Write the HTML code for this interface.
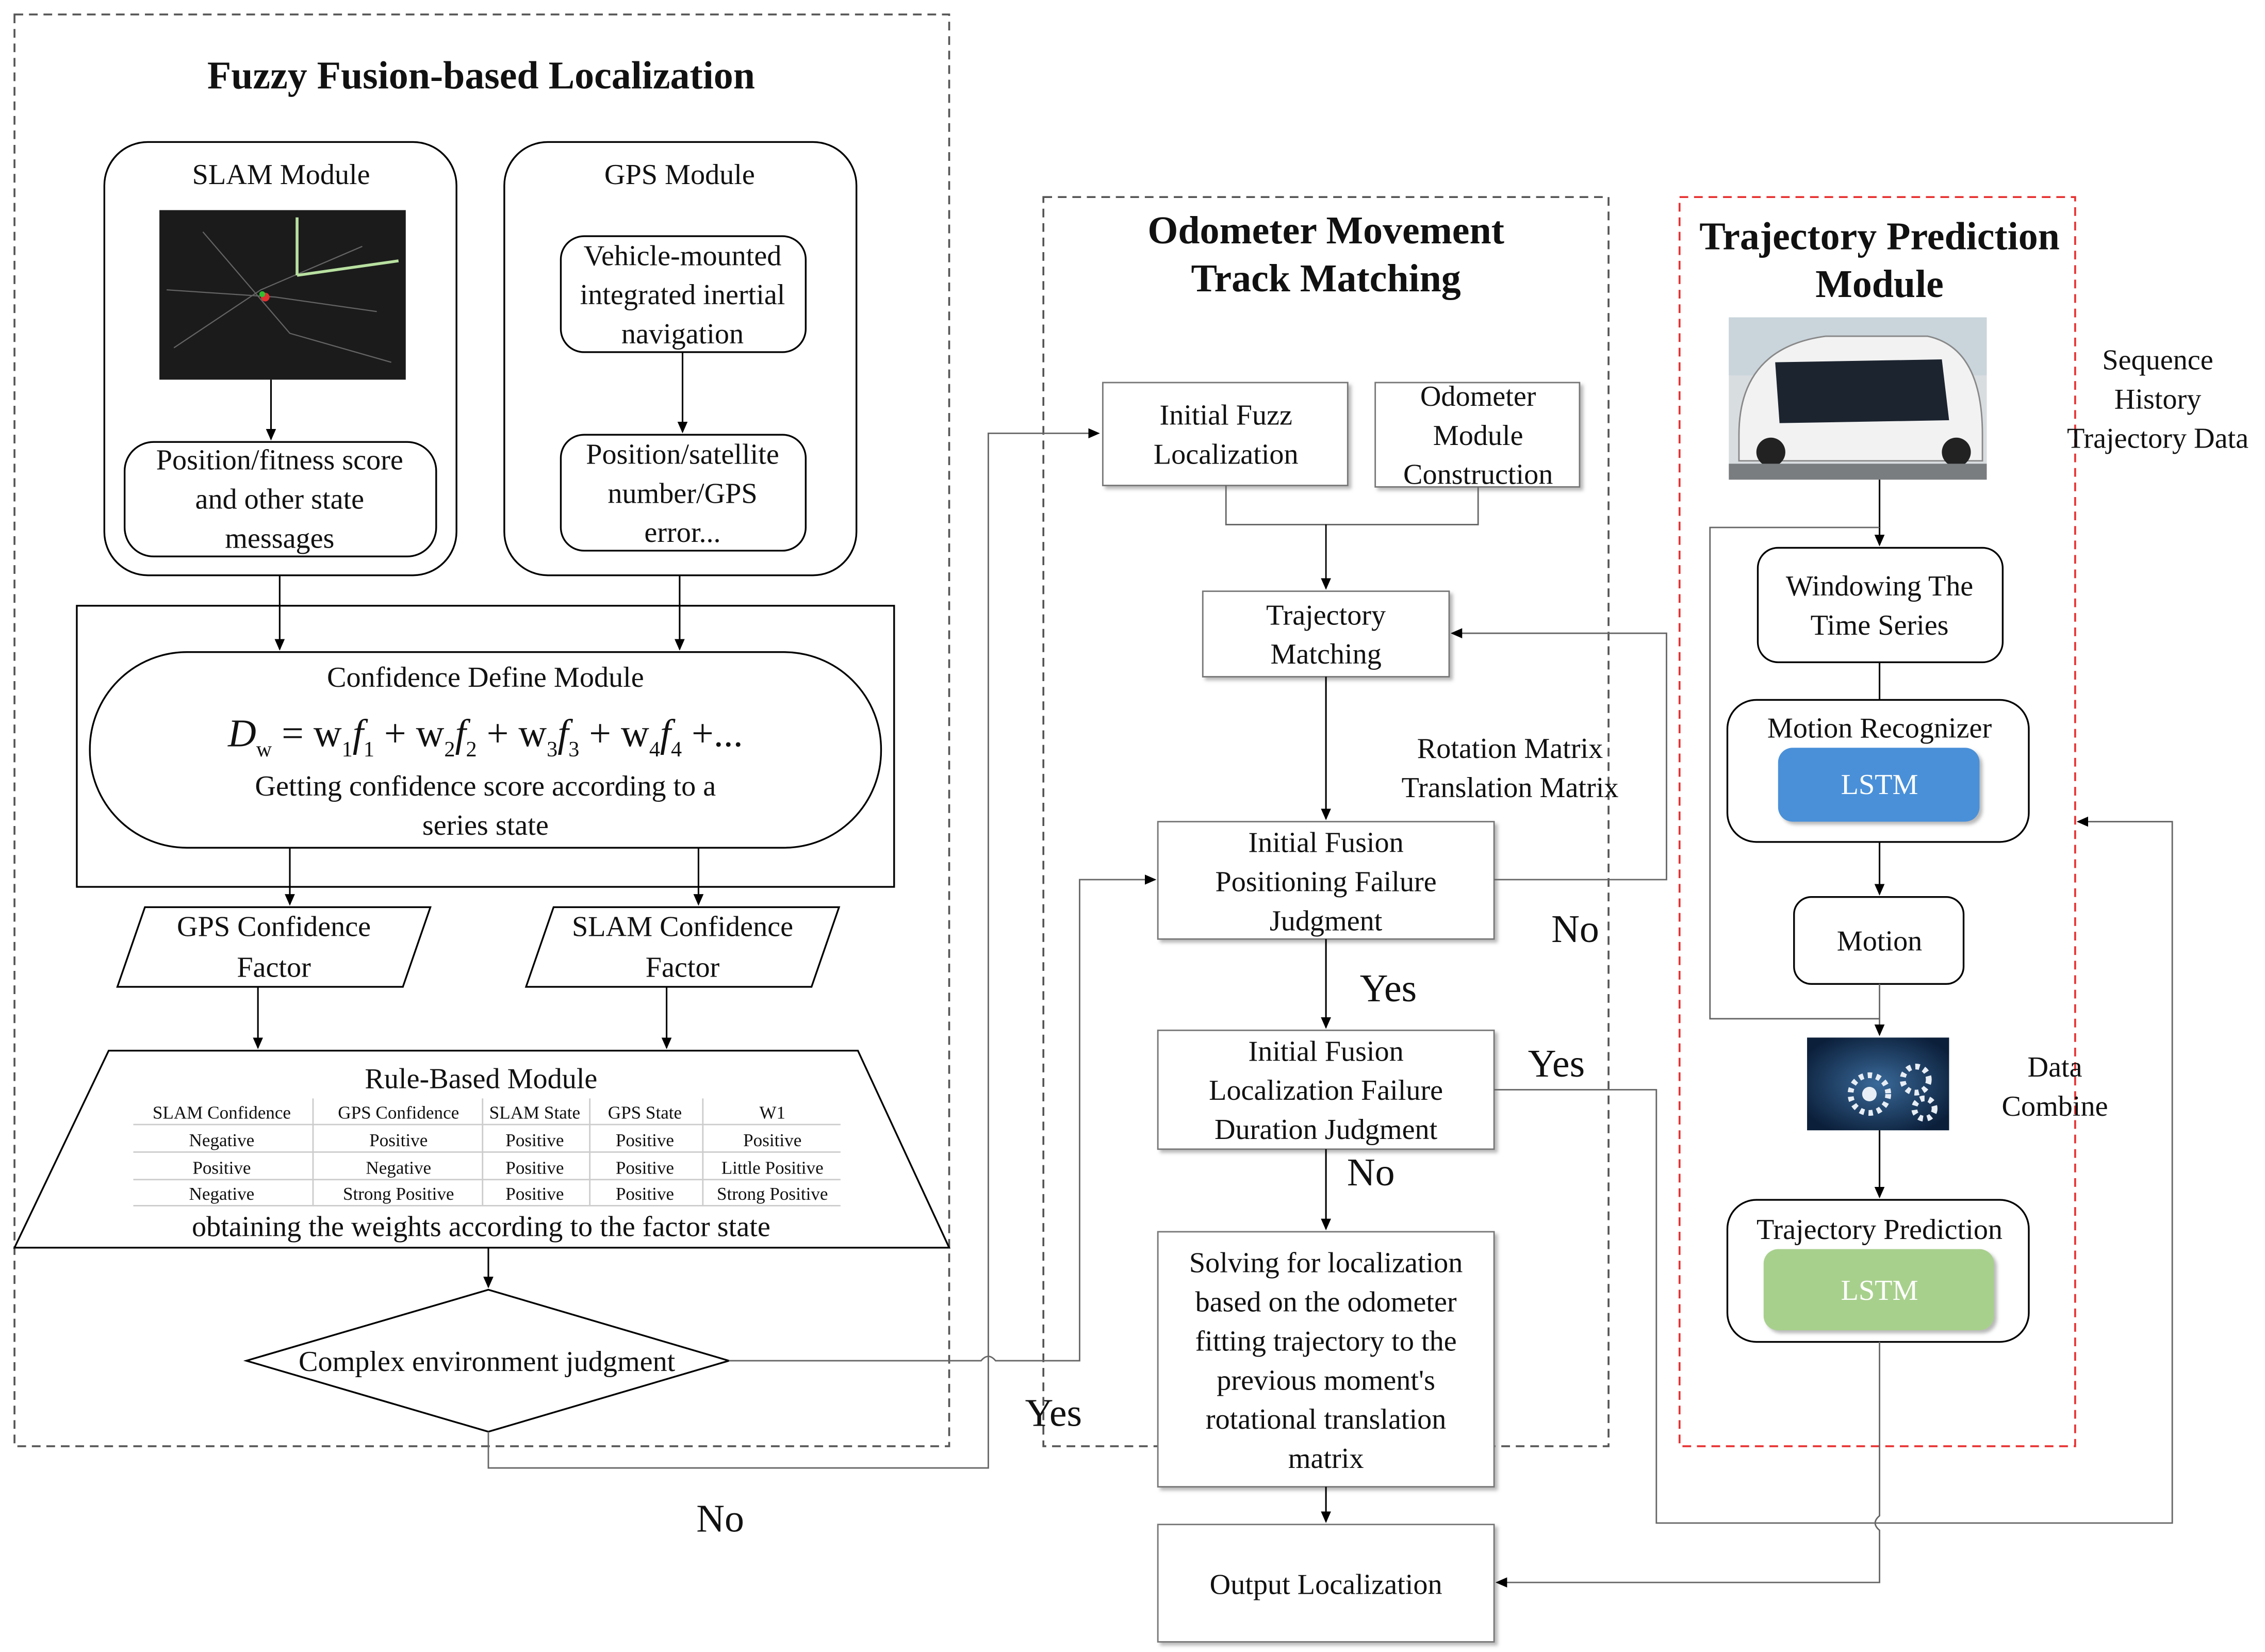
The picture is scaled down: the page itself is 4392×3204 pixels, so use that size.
<!DOCTYPE html>
<html><head><meta charset="utf-8"><style>
html,body{margin:0;padding:0;background:#fff;}
svg{display:block;}
text{font-family:"Liberation Serif",serif;fill:#111;}
</style></head><body>
<svg width="4392" height="3204" viewBox="0 0 1563 1140" preserveAspectRatio="none" xmlns="http://www.w3.org/2000/svg">
<defs>
<marker id="a" markerWidth="8" markerHeight="8" refX="7" refY="4" orient="auto" markerUnits="userSpaceOnUse"><path d="M0,0.5 L8,4 L0,7.5 z" fill="#000"/></marker>
<filter id="sh" x="-5%" y="-5%" width="115%" height="120%"><feDropShadow dx="2" dy="2" stdDeviation="1.2" flood-color="#888" flood-opacity="0.6"/></filter>
<radialGradient id="gear" cx="0.5" cy="0.5" r="0.6"><stop offset="0" stop-color="#3a6a9a"/><stop offset="1" stop-color="#0b1f3a"/></radialGradient>
</defs>
<g fill="none" stroke="#555" stroke-width="1.3" stroke-dasharray="6,4">
<rect x="10" y="10" width="645" height="988"/>
<rect x="720" y="136" width="390" height="862"/>
</g>
<rect x="1159" y="136" width="273" height="862" fill="none" stroke="#e83030" stroke-width="1.3" stroke-dasharray="6,4"/>

<g font-weight="bold" font-size="27" text-anchor="middle">
<text x="332" y="61">Fuzzy Fusion-based Localization</text>
<text x="915" y="168">Odometer Movement</text>
<text x="915" y="201">Track Matching</text>
<text x="1297" y="172">Trajectory Prediction</text>
<text x="1297" y="205">Module</text>
</g>

<g fill="none" stroke="#000" stroke-width="1.2">
<rect x="72" y="98" width="243" height="299" rx="30"/>
<rect x="348" y="98" width="243" height="299" rx="30"/>
<rect x="86" y="305" width="215" height="79" rx="20"/>
<rect x="387" y="163" width="169" height="80" rx="16"/>
<rect x="387" y="300" width="169" height="80" rx="16"/>
<rect x="53" y="418" width="564" height="194"/>
<rect x="62" y="450" width="546" height="135" rx="67"/>
<polygon points="100,626 297,626 278,681 81,681"/>
<polygon points="382,626 579,626 560,681 363,681"/>
<polygon points="75,725 592,725 655,861 10,861"/>
<polygon points="170,939 337,890 503,939 337,988"/>
</g>
<rect x="110" y="145" width="170" height="117" fill="#1b1b1b"/>
<g stroke="#777" stroke-width="0.8" opacity="0.8">
<path d="M120,240 L180,200 L250,170 M140,160 L200,230 L270,250 M115,200 L190,205 L260,215" fill="none"/>
</g>
<path d="M205,190 L205,150 M205,190 L275,180" stroke="#b8e0a0" stroke-width="2" fill="none"/>
<circle cx="183" cy="205" r="3" fill="#e03030"/><circle cx="181" cy="203" r="2" fill="#30c030"/>

<g font-size="20" text-anchor="middle">
<text x="194" y="127">SLAM Module</text>
<text x="469" y="127">GPS Module</text>
<text x="193" y="324">Position/fitness score</text>
<text x="193" y="351">and other state</text>
<text x="193" y="378">messages</text>
<text x="471" y="183">Vehicle-mounted</text>
<text x="471" y="210">integrated inertial</text>
<text x="471" y="237">navigation</text>
<text x="471" y="320">Position/satellite</text>
<text x="471" y="347">number/GPS</text>
<text x="471" y="374">error...</text>
<text x="335" y="474">Confidence Define Module</text>
<text x="335" y="549">Getting confidence score according to a</text>
<text x="335" y="576">series state</text>
<text x="189" y="646">GPS Confidence</text>
<text x="189" y="674">Factor</text>
<text x="471" y="646">SLAM Confidence</text>
<text x="471" y="674">Factor</text>
<text x="332" y="751">Rule-Based Module</text>
<text x="332" y="853">obtaining the weights according to the factor state</text>
<text x="336" y="946">Complex environment judgment</text>
</g>
<text x="335" y="515" font-size="27" text-anchor="middle" font-style="italic">D<tspan font-size="15" dy="7" font-style="normal">w</tspan><tspan dy="-7" font-style="normal"> =  w</tspan><tspan font-size="15" dy="7" font-style="normal">1</tspan><tspan dy="-7">f</tspan><tspan font-size="15" dy="7" font-style="normal">1</tspan><tspan dy="-7" font-style="normal"> + w</tspan><tspan font-size="15" dy="7" font-style="normal">2</tspan><tspan dy="-7">f</tspan><tspan font-size="15" dy="7" font-style="normal">2</tspan><tspan dy="-7" font-style="normal"> + w</tspan><tspan font-size="15" dy="7" font-style="normal">3</tspan><tspan dy="-7">f</tspan><tspan font-size="15" dy="7" font-style="normal">3</tspan><tspan dy="-7" font-style="normal"> + w</tspan><tspan font-size="15" dy="7" font-style="normal">4</tspan><tspan dy="-7">f</tspan><tspan font-size="15" dy="7" font-style="normal">4</tspan><tspan dy="-7" font-style="normal"> +...</tspan></text>

<g stroke="#ccc" stroke-width="1">
<line x1="92" y1="776" x2="580" y2="776"/><line x1="92" y1="795" x2="580" y2="795"/><line x1="92" y1="814" x2="580" y2="814"/><line x1="92" y1="832" x2="580" y2="832"/>
<line x1="216" y1="758" x2="216" y2="832"/><line x1="333" y1="758" x2="333" y2="832"/><line x1="407" y1="758" x2="407" y2="832"/><line x1="485" y1="758" x2="485" y2="832"/>
</g>
<g font-size="12.5" text-anchor="middle">
<text x="153" y="772">SLAM Confidence</text><text x="275" y="772">GPS Confidence</text><text x="369" y="772">SLAM State</text><text x="445" y="772">GPS State</text><text x="533" y="772">W1</text>
<text x="153" y="791">Negative</text><text x="275" y="791">Positive</text><text x="369" y="791">Positive</text><text x="445" y="791">Positive</text><text x="533" y="791">Positive</text>
<text x="153" y="810">Positive</text><text x="275" y="810">Negative</text><text x="369" y="810">Positive</text><text x="445" y="810">Positive</text><text x="533" y="810">Little Positive</text>
<text x="153" y="828">Negative</text><text x="275" y="828">Strong Positive</text><text x="369" y="828">Positive</text><text x="445" y="828">Positive</text><text x="533" y="828">Strong Positive</text>
</g>

<g fill="#fff" stroke="#777" stroke-width="1" filter="url(#sh)">
<rect x="761" y="264" width="169" height="71"/>
<rect x="949" y="264" width="141" height="72"/>
<rect x="830" y="408" width="170" height="59"/>
<rect x="799" y="567" width="232" height="81"/>
<rect x="799" y="711" width="232" height="82"/>
<rect x="799" y="850" width="232" height="176"/>
<rect x="799" y="1052" width="232" height="81"/>
</g>
<g font-size="20" text-anchor="middle">
<text x="846" y="293">Initial Fuzz</text><text x="846" y="320">Localization</text>
<text x="1020" y="280">Odometer</text><text x="1020" y="307">Module</text><text x="1020" y="334">Construction</text>
<text x="915" y="431">Trajectory</text><text x="915" y="458">Matching</text>
<text x="1042" y="523">Rotation Matrix</text><text x="1042" y="550">Translation Matrix</text>
<text x="915" y="588">Initial Fusion</text><text x="915" y="615">Positioning Failure</text><text x="915" y="642">Judgment</text>
<text x="915" y="732">Initial Fusion</text><text x="915" y="759">Localization Failure</text><text x="915" y="786">Duration Judgment</text>
<text x="915" y="878">Solving for localization</text><text x="915" y="905">based on the odometer</text><text x="915" y="932">fitting trajectory to the</text><text x="915" y="959">previous moment's</text><text x="915" y="986">rotational translation</text><text x="915" y="1013">matrix</text>
<text x="915" y="1100">Output Localization</text>
<text x="1489" y="255">Sequence</text><text x="1489" y="282">History</text><text x="1489" y="309">Trajectory Data</text>
<text x="1418" y="743">Data</text><text x="1418" y="770">Combine</text>
</g>
<g font-size="27" text-anchor="middle">
<text x="1087" y="650">No</text><text x="958" y="691">Yes</text><text x="1074" y="743">Yes</text><text x="946" y="818">No</text><text x="727" y="984">Yes</text><text x="497" y="1057">No</text>
</g>

<!-- right module -->
<rect x="1193" y="219" width="178" height="112" fill="#d8dde0"/>
<rect x="1193" y="219" width="178" height="40" fill="#c9d4db"/>
<path d="M1200,300 Q1200,240 1260,232 L1330,232 Q1368,240 1368,300 L1368,318 L1200,318 z" fill="#f2f2f2" stroke="#888"/>
<path d="M1225,250 L1340,248 L1345,290 L1228,292 z" fill="#1c2430"/>
<circle cx="1222" cy="312" r="10" fill="#222"/><circle cx="1350" cy="312" r="10" fill="#222"/>
<rect x="1193" y="320" width="178" height="11" fill="#7a7d80"/>

<g fill="#fff" stroke="#000" stroke-width="1.2">
<rect x="1213" y="378" width="169" height="79" rx="14"/>
<rect x="1192" y="483" width="208" height="98" rx="20"/>
<rect x="1238" y="619" width="117" height="60" rx="12"/>
<rect x="1192" y="828" width="208" height="98" rx="20"/>
</g>
<rect x="1227" y="516" width="139" height="51" rx="10" fill="#4a90d9" filter="url(#sh)"/>
<rect x="1217" y="862" width="159" height="56" rx="10" fill="#a8d08d" filter="url(#sh)"/>
<rect x="1247" y="716" width="98" height="64" fill="url(#gear)"/>
<g fill="none" stroke="#e8eef5" stroke-width="4" stroke-dasharray="3,3">
<circle cx="1290" cy="755" r="13"/><circle cx="1322" cy="745" r="9"/><circle cx="1328" cy="765" r="7"/>
</g>
<circle cx="1290" cy="755" r="5" fill="#e8eef5"/>
<g font-size="20" text-anchor="middle">
<text x="1297" y="411">Windowing The</text><text x="1297" y="438">Time Series</text>
<text x="1297" y="509">Motion Recognizer</text>
<text x="1297" y="548" style="fill:#fff">LSTM</text>
<text x="1297" y="656">Motion</text>
<text x="1297" y="855">Trajectory Prediction</text>
<text x="1297" y="897" style="fill:#fff">LSTM</text>
</g>

<!-- connectors -->
<g fill="none" stroke="#000" stroke-width="1.1">
<line x1="187" y1="262" x2="187" y2="303" marker-end="url(#a)"/>
<line x1="471" y1="243" x2="471" y2="298" marker-end="url(#a)"/>
<line x1="193" y1="397" x2="193" y2="448" marker-end="url(#a)"/>
<line x1="469" y1="397" x2="469" y2="448" marker-end="url(#a)"/>
<line x1="200" y1="585" x2="200" y2="624" marker-end="url(#a)"/>
<line x1="482" y1="585" x2="482" y2="624" marker-end="url(#a)"/>
<line x1="178" y1="681" x2="178" y2="723" marker-end="url(#a)"/>
<line x1="460" y1="681" x2="460" y2="723" marker-end="url(#a)"/>
<line x1="337" y1="861" x2="337" y2="888" marker-end="url(#a)"/>
<line x1="915" y1="1026" x2="915" y2="1050" marker-end="url(#a)"/>
<line x1="915" y1="648" x2="915" y2="709" marker-end="url(#a)"/>
<line x1="915" y1="793" x2="915" y2="848" marker-end="url(#a)"/>
<line x1="915" y1="467" x2="915" y2="565" marker-end="url(#a)"/>
<line x1="1297" y1="457" x2="1297" y2="483"/>
<line x1="1297" y1="581" x2="1297" y2="617" marker-end="url(#a)"/>
<line x1="1297" y1="780" x2="1297" y2="826" marker-end="url(#a)"/>
<line x1="1297" y1="331" x2="1297" y2="376" marker-end="url(#a)"/>
</g>
<g fill="none" stroke="#666" stroke-width="1">
<polyline points="846,335 846,362 1020,362 1020,336"/>
<line x1="915" y1="362" x2="915" y2="406" stroke="#000" marker-end="url(#a)"/>
<path d="M503,939 L677,939 Q682,933 687,939 L745,939 L745,607 L797,607" marker-end="url(#a)"/>
<polyline points="337,988 337,1013 682,1013 682,299 758,299" marker-end="url(#a)"/>
<polyline points="1031,607 1150,607 1150,437 1002,437" marker-end="url(#a)"/>
<polyline points="1031,752 1143,752 1143,1051 1499,1051 1499,567 1434,567" marker-end="url(#a)"/>
<path d="M1297,926 L1297,1046 Q1291,1051 1297,1056 L1297,1092 L1033,1092" marker-end="url(#a)"/>
<polyline points="1297,364 1180,364 1180,703 1297,703 1297,714" marker-end="url(#a)"/>
<line x1="1297" y1="679" x2="1297" y2="703"/>
</g>
</svg>
</body></html>
